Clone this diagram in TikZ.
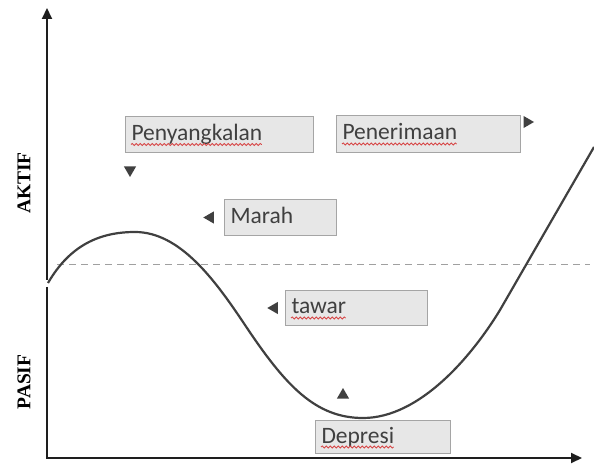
\documentclass[tikz,border=0pt]{standalone}
\usepackage{fontspec}
\setmainfont{Carlito}
\newfontfamily\axisfont{Liberation Serif}
\usetikzlibrary{positioning,arrows.meta,shapes.geometric,calc,decorations.pathmorphing}
\definecolor{GriefInk}{RGB}{64,64,64}
\definecolor{GriefFill}{RGB}{231,231,231}
\definecolor{GriefEdge}{RGB}{165,165,165}
\definecolor{GriefAxis}{RGB}{30,30,30}
\definecolor{GriefDash}{RGB}{160,160,160}
\definecolor{GriefSpell}{RGB}{215,70,70}
% word that the spell checker flagged: keep its width for the wave
\newlength\spellwd
\newcommand\spellword[1]{\setbox0\hbox{#1}\global\spellwd=\wd0\box0}
\tikzset{
  grief box/.style={
    draw=GriefEdge,
    fill=GriefFill,
    line width=1pt,
    text=GriefInk,
    font=\fontsize{23.5}{28}\selectfont,
    align=left,
    anchor=north west,
    inner xsep=6pt,
    inner ysep=0pt,
    text height=17pt,
    text depth=5pt
  },
  grief tip/.style={regular polygon, regular polygon sides=3, fill=GriefInk, minimum size=14pt, inner sep=0pt},
  tip down/.style={grief tip, shape border rotate=180},
  tip left/.style={grief tip, shape border rotate=90},
  tip right/.style={grief tip, shape border rotate=-90},
  tip up/.style={grief tip},
  grief axis/.style={line width=2pt, GriefAxis},
  grief arrow/.style={grief axis, -{Triangle[length=11pt,width=10pt]}},
  grief level/.style={GriefDash, line width=1pt, dash pattern=on 7pt off 5pt},
  grief curve/.style={GriefInk, line width=2.2pt},
  spell wave/.style={GriefSpell, line width=0.8pt, decorate, decoration={snake, segment length=4pt, amplitude=1.1pt}},
  axis label/.style={font=\axisfont\bfseries\fontsize{19.5}{22}\selectfont, text=black, rotate=90}
}
\begin{document}
\begin{tikzpicture}[x=1pt, y=1pt]
\useasboundingbox (0,0) rectangle (594,466);
% axes
\coordinate (origin) at (47,8);
\coordinate (ytop) at (47,458);
\coordinate (xend) at (582,8);
\coordinate (gaplow) at (47,179);
\coordinate (gaphigh) at (47,186);
\draw[grief arrow] (gaplow)--(origin)--(xend);
\draw[grief arrow] (gaphigh)--(ytop);
\node[axis label] (aktif) at (24,283) {AKTIF};
\node[axis label] (pasif) at (24,84) {PASIF};
% boundary between active and passive
\coordinate (lvlstart) at (57,201);
\coordinate (lvlend) at (590,201);
\draw[grief level] (lvlstart)--(lvlend);
% the curve
\coordinate (c0) at (48,183);
\coordinate (peak) at (135,234);
\coordinate (bend) at (245,141);
\coordinate (trough) at (363,48);
\coordinate (climb) at (500,156);
\coordinate (cend) at (594,319);
\draw[grief curve] (c0) .. controls (70,221) and (100,234) .. (peak)
  .. controls (180,234) and (215,186) .. (bend)
  .. controls (285,81) and (315,48) .. (trough)
  .. controls (420,48) and (472,110) .. (climb)
  -- (cend);
% stages
\node[grief box, text width=176pt, minimum height=36pt] (deny) at (125,350) {\spellword{Penyangkalan}};
\draw[spell wave] ($(deny.base west)+(6,-4)$) -- ++(\spellwd,0);
\node[grief box, text width=172pt, minimum height=37pt] (accept) at (336,351) {\spellword{Penerimaan}};
\draw[spell wave] ($(accept.base west)+(6,-4)$) -- ++(\spellwd,0);
\node[grief box, text width=100pt, minimum height=36pt] (anger) at (224,267) {Marah};
\node[grief box, text width=130pt, minimum height=35pt] (bargain) at (285,176) {\spellword{tawar}};
\draw[spell wave] ($(bargain.base west)+(6,-4)$) -- ++(\spellwd,0);
\node[grief box, text width=123pt, minimum height=33pt] (depress) at (315,46) {\spellword{Depresi}};
\draw[spell wave] ($(depress.base west)+(6,-4)$) -- ++(\spellwd,0);
\node[tip down] (denytip) at ($(deny.south west)+(5,-17)$) {};
\node[tip right] (accepttip) at ($(accept.north east)+(6,-7)$) {};
\node[tip left, left=10pt of anger] (angertip) {};
\node[tip left, left=7pt of bargain] (bargaintip) {};
\node[tip up] (depresstip) at ($(depress.north west)+(28,25)$) {};
\end{tikzpicture}
\end{document}
